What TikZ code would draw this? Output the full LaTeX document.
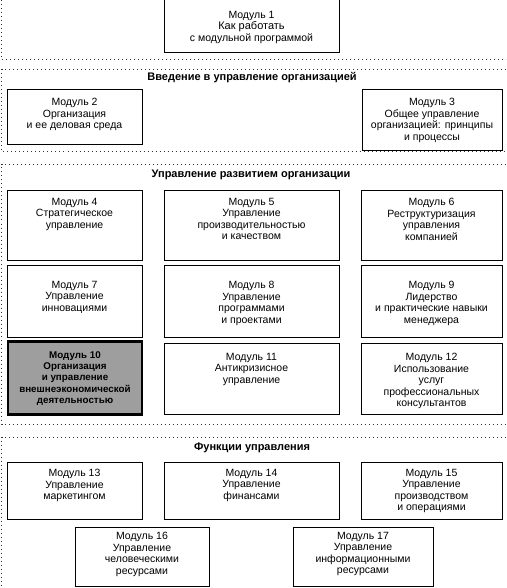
\documentclass[tikz,border=0pt]{standalone}
\usepackage{fontspec}
\setmainfont{Liberation Sans}
\newcommand\Mod[7]{%
  \node[box, minimum width={#4-#2}, minimum height={#5-#3}] (#1) at ({(#2+#4)/2},{(#3+#5)/2}) {};
  \draw[shadeline] (#1.south west) -- (#1.south east) -- (#1.north east);
  \node[txt] (#1t) at ({(#2+#4)/2},#6) {#7};}
\begin{document}
\begin{tikzpicture}[x=1pt,y=-1pt,
  box/.style={draw=black, line width=0.6pt, fill=white, inner sep=0pt},
  shadeline/.style={draw=black, line width=1.5pt},
  txt/.style={anchor=north, align=center, inner sep=0pt, font=\fontsize{10.5}{11.5}\selectfont},
  boldbox/.style={draw=black, line width=2.4pt, fill=black!38, inner sep=0pt},
  boldtxt/.style={anchor=north, align=center, inner sep=0pt, font=\bfseries\fontsize{9.8}{11.4}\selectfont},
  sectitle/.style={inner sep=0pt, font=\bfseries\fontsize{11}{12}\selectfont},
  sect/.style={draw=black!80, line width=0.9pt, dash pattern=on 0.9pt off 3.1pt}]
\useasboundingbox (0,0) rectangle (506,588);
\clip (0,0) rectangle (506,588);
\fill[white] (0,0) rectangle (506,588);

% section frames
\draw[sect] (1.5,0) -- (1.5,59.5) -- (506,59.5);
\draw[sect] (506,69.5) -- (1.5,69.5) -- (1.5,151) -- (506,151);
\draw[sect] (506,164) -- (1.5,164) -- (1.5,424) -- (506,424);
\draw[sect] (506,437) -- (1.5,437) -- (1.5,590);

% section titles
\node[sectitle] (s2) at (252,78) {Введение в управление организацией};
\node[sectitle] (s3) at (251,175) {Управление развитием организации};
\node[sectitle] (s4) at (252,448) {Функции управления};

% modules
\Mod{m1}{164}{-5}{339}{52}{11}{\fontsize{10.5}{9.8}\selectfont Модуль 1\\{\fontsize{11}{9.8}\selectfont Как работать}\\с модульной программой}
\Mod{m2}{7}{89}{142}{144}{98}{Модуль 2\\Организация\\и ее деловая среда}
\Mod{m3}{362}{89}{502}{150}{98}{Модуль 3\\Общее управление\\организацией: принципы\\и процессы}
\Mod{m4}{7}{190}{142}{260}{198}{Модуль 4\\Стратегическое\\управление}
\Mod{m5}{164}{190}{339}{260}{198}{Модуль 5\\Управление\\производительностью\\и качеством}
\Mod{m6}{361}{190}{502}{260}{198}{Модуль 6\\Реструктуризация\\управления\\компанией}
\Mod{m7}{7}{265}{142}{337}{281}{Модуль 7\\Управление\\инновациями}
\Mod{m8}{164}{265}{339}{337}{281}{Модуль 8\\Управление\\программами\\и проектами}
\Mod{m9}{361}{265}{502}{337}{281}{Модуль 9\\Лидерство\\и практические навыки\\менеджера}
\Mod{m11}{164}{343}{339}{414}{353}{Модуль 11\\Антикризисное\\управление}
\Mod{m12}{361}{343}{502}{414}{353}{Модуль 12\\Использование\\услуг\\профессиональных\\консультантов}
\Mod{m13}{7}{462}{142}{519}{469}{Модуль 13\\Управление\\маркетингом}
\Mod{m14}{164}{462}{339}{519}{469}{Модуль 14\\Управление\\финансами}
\Mod{m15}{361}{462}{502}{519}{469}{Модуль 15\\Управление\\производством\\и операциями}
\Mod{m16}{75}{527}{209}{586}{532}{Модуль 16\\Управление\\человеческими\\ресурсами}
\Mod{m17}{293}{527}{433}{586}{532}{Модуль 17\\Управление\\информационными\\ресурсами}

% highlighted module 10
\node[boldbox, minimum width=134, minimum height=73] (m10) at (75,378) {};
\node[boldtxt] (m10t) at (75,351) {Модуль 10\\Организация\\и управление\\внешнеэкономической\\деятельностью};
\end{tikzpicture}
\end{document}
